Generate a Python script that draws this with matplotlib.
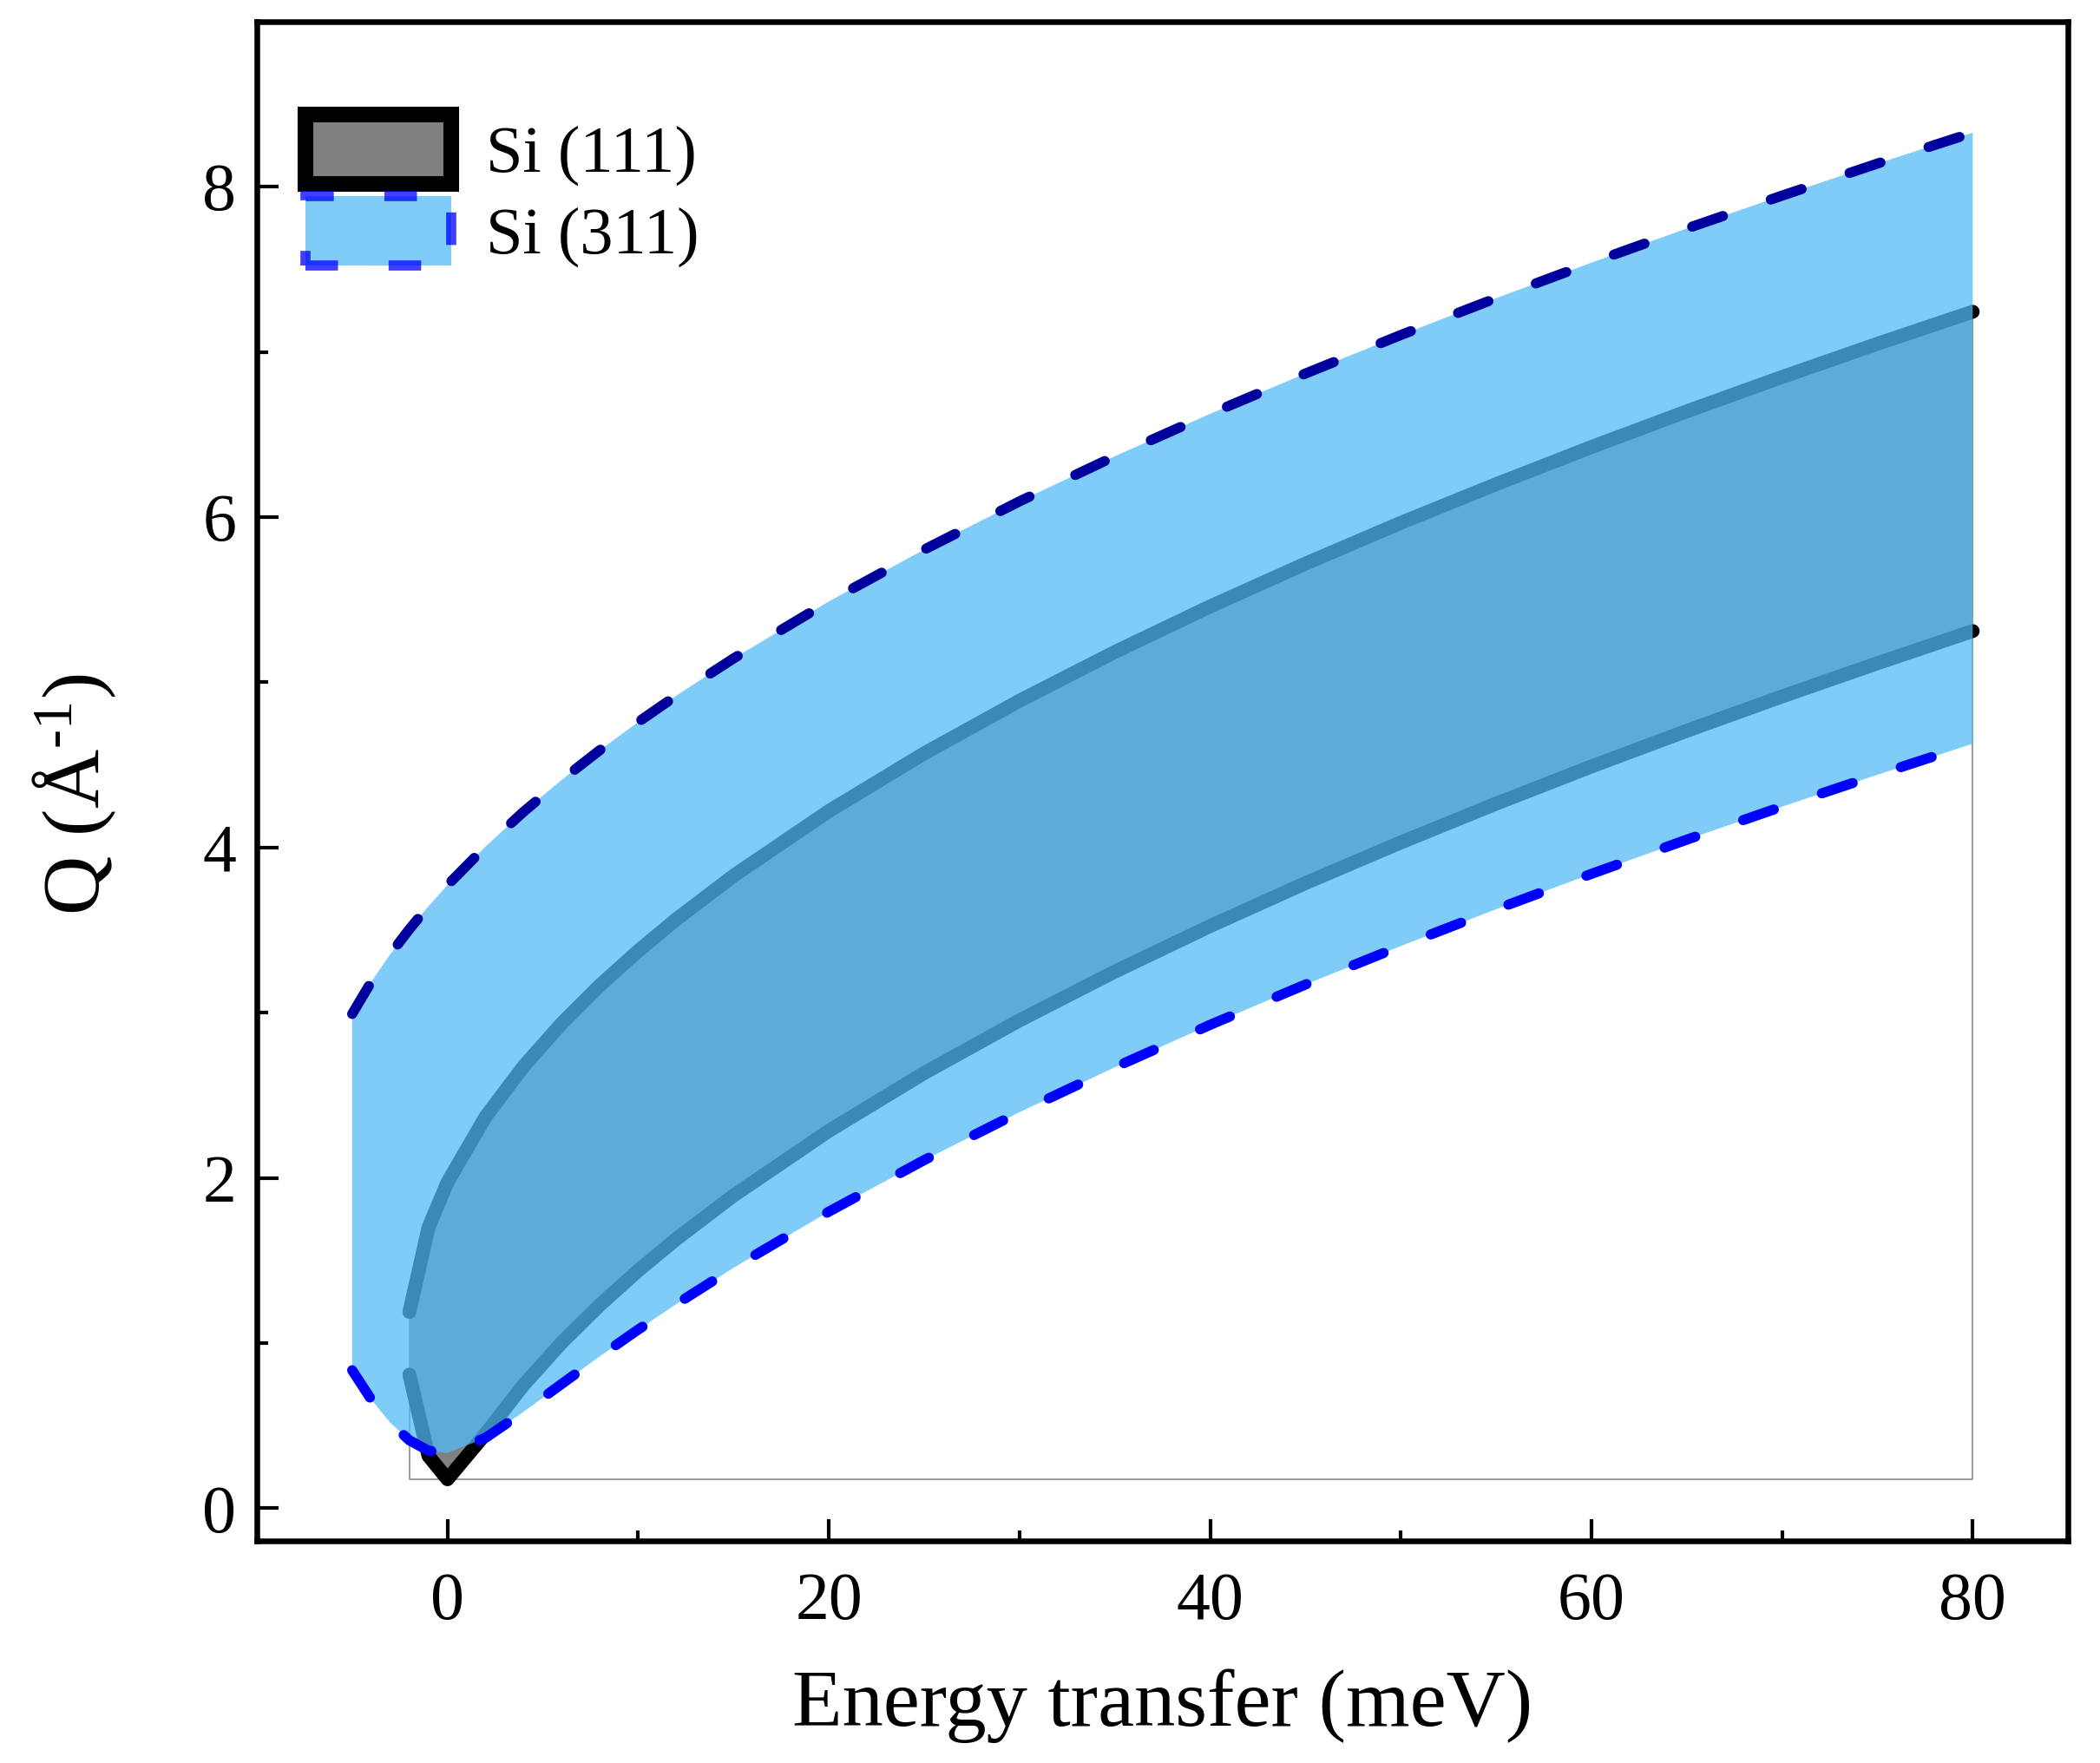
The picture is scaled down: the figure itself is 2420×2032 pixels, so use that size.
import matplotlib
matplotlib.use('Agg')
import matplotlib.pyplot as plt
from matplotlib.patches import Patch
from matplotlib.ticker import MultipleLocator

plt.rcParams['font.family'] = ['Liberation Serif', 'DejaVu Serif']
plt.rcParams['mathtext.fontset'] = 'custom'
plt.rcParams['mathtext.rm'] = 'Liberation Serif'
plt.rcParams['mathtext.it'] = 'Liberation Serif:italic'
plt.rcParams['lines.scale_dashes'] = False

# ---- data ----
e111 = [-2, -1, 0, 2, 4, 6, 8, 10, 12, 15, 20, 25, 30, 35, 40, 45, 50, 55, 60, 65, 70, 75, 80]
q111_hi = [1.188, 1.698, 1.973, 2.370, 2.676, 2.936, 3.166, 3.373, 3.565, 3.828, 4.220, 4.569,
           4.888, 5.183, 5.459, 5.718, 5.965, 6.199, 6.424, 6.640, 6.848, 7.049, 7.243]
q111_lo = [0.809, 0.317, 0.175, 0.451, 0.747, 1.003, 1.231, 1.438, 1.629, 1.892, 2.284, 2.634,
           2.953, 3.248, 3.524, 3.784, 4.030, 4.265, 4.490, 4.706, 4.914, 5.115, 5.310]

e311 = [-5, -4, -3, -2, -1, 0, 2, 4, 6, 8, 10, 12, 15, 20, 25, 30, 35, 40, 45, 50, 55, 60, 65, 70, 75, 80]
q311_hi = [2.992, 3.186, 3.354, 3.505, 3.644, 3.772, 4.006, 4.217, 4.410, 4.590, 4.759, 4.919, 5.144,
           5.489, 5.803, 6.095, 6.368, 6.625, 6.869, 7.102, 7.325, 7.540, 7.747, 7.946, 8.140, 8.327]
q311_lo = [0.835, 0.658, 0.517, 0.411, 0.348, 0.334, 0.426, 0.584, 0.753, 0.920, 1.081, 1.235, 1.455,
           1.795, 2.107, 2.397, 2.669, 2.926, 3.170, 3.403, 3.626, 3.840, 4.047, 4.247, 4.440, 4.628]

labels = ['Si (111)', 'Si (311)']
xticks = [0, 20, 40, 60, 80]
yticks = [0, 2, 4, 6, 8]

# ---- styles ----
grey = '#808080'
lightblue = (82 / 255, 186 / 255, 248 / 255)
blue_alpha = 0.74
navy = '#00009c'
blue = '#0000ff'
dash = (27, 42)

fig = plt.figure(figsize=(24.2, 20.32), dpi=100)
ax = fig.add_axes([0.1223, 0.1258, 0.8625, 0.8620])

# Si(111) band
ax.fill_between(e111, q111_lo, q111_hi, facecolor=grey, edgecolor='none', lw=0, zorder=1)
base = min(q111_lo)
ax.plot([e111[0], e111[0], e111[-1], e111[-1]], [q111_hi[0], base, base, q111_hi[-1]],
        color='#8a8a8a', lw=1.2, zorder=1.5)
for q in (q111_hi, q111_lo):
    ax.plot(e111, q, color='black', lw=11.5, solid_capstyle='round',
            solid_joinstyle='round', zorder=2)

# Si(311) band
ax.fill_between(e311, q311_lo, q311_hi, facecolor=lightblue, alpha=blue_alpha,
                edgecolor='none', lw=0, zorder=3)
ax.plot(e311, q311_hi, color=navy, lw=8.4, dashes=dash, dash_capstyle='round',
        dash_joinstyle='round', zorder=4)
ax.plot(e311, q311_lo, color=blue, lw=8.4, dashes=dash, dash_capstyle='round',
        dash_joinstyle='round', zorder=4)

# axes
ax.set_xlim(-10, 85)
ax.set_ylim(-0.2, 9.0)
ax.set_xticks(xticks)
ax.set_yticks(yticks)
ax.xaxis.set_minor_locator(MultipleLocator(10))
ax.yaxis.set_minor_locator(MultipleLocator(1))
for s in ax.spines.values():
    s.set_linewidth(4.7)
ax.tick_params(which='both', direction='in', top=False, right=False, width=3)
ax.tick_params(which='major', length=18, labelsize=56)
ax.tick_params(axis='x', which='major', pad=25.5)
ax.tick_params(axis='y', which='major', pad=17)
ax.tick_params(which='minor', length=9)

ax.set_xlabel('Energy transfer (meV)', fontsize=68)
ax.set_ylabel('Q (Å$^{\\mathregular{\u20101}}$)', fontsize=68)
ax.xaxis.set_label_coords(0.5, -0.0837)
ax.yaxis.set_label_coords(-0.0767, 0.4916)

handles = [
    Patch(facecolor=grey, edgecolor='black', lw=13, joinstyle='round'),
    Patch(facecolor=lightblue + (blue_alpha,), edgecolor=(0, 0, 1, 0.75), lw=8.4,
          linestyle=(0, dash), capstyle='round'),
]
ax.legend(handles, labels, loc='upper left', bbox_to_anchor=(0.0267, 0.939), frameon=False,
          fontsize=55, handlelength=2.2, handleheight=1.234, handletextpad=0.53,
          labelspacing=0.16, borderpad=0, borderaxespad=0)

fig.savefig('out.png', dpi=100)
